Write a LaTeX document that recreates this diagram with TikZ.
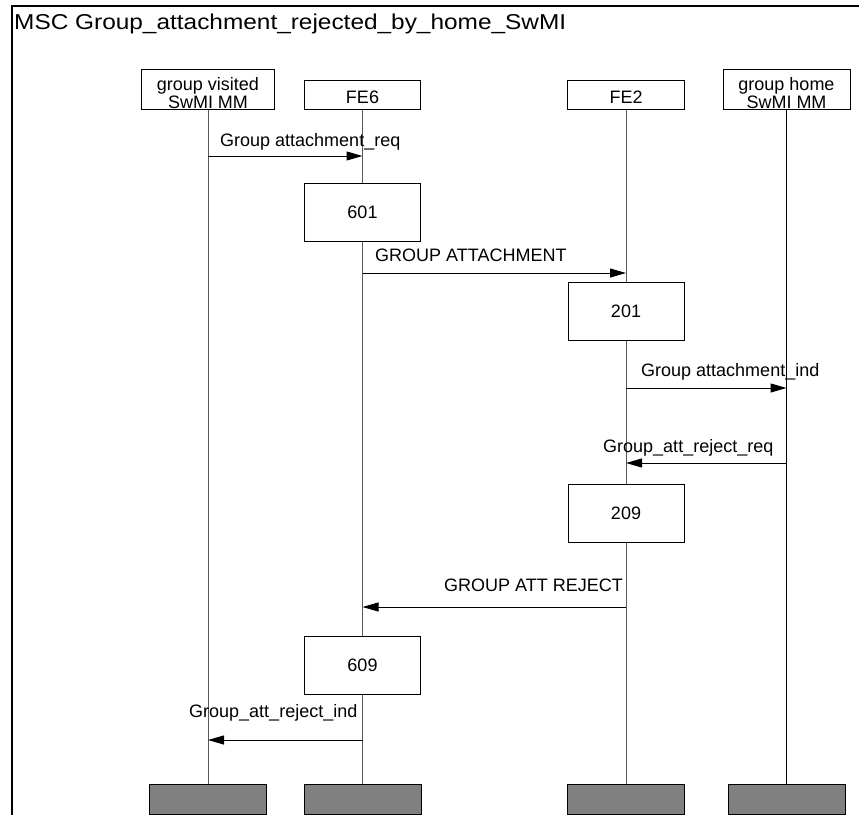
\documentclass[tikz,border=0pt]{standalone}
\usepackage{fontspec}
\setmainfont{Liberation Sans}
\usetikzlibrary{arrows.meta}
\begin{document}
\begin{tikzpicture}[x=1pt,y=-1pt,
  hbox/.style={draw=black, line width=1pt, fill=white, inner sep=0pt, font=\fontsize{18}{18}\selectfont},
  abox/.style={draw=black, line width=1pt, fill=white, inner sep=0pt, minimum width=116pt, minimum height=58pt, font=\fontsize{18}{18}\selectfont},
  endbox/.style={draw=black, line width=1pt, fill=black!50, inner sep=0pt, minimum width=117pt, minimum height=29.5pt, anchor=north},
  life/.style={line width=1pt, draw=black!65},
  msg/.style={line width=1pt, -{Triangle[length=16pt,width=9pt]}},
  lbl/.style={font=\fontsize{18}{18}\selectfont, inner sep=0pt, anchor=base west},
  htxt/.style={font=\fontsize{18}{18}\selectfont, inner sep=0pt, anchor=base},
]
\clip (0,0) rectangle (859,814);
\fill[white] (0,0) rectangle (859,814);
% frame
\draw[line width=2pt] (12,830) -- (12,6) -- (870,6);
\node[anchor=base west, inner sep=0pt] (title) at (14,29.3)
  {\scalebox{1.135}[1]{\fontsize{21.5}{21.5}\selectfont MSC Group\_attachment\_rejected\_by\_home\_SwMI}};

% instance heads
\node[hbox, minimum width=133pt, minimum height=40pt] (hv) at (208,89) {};
\node[htxt] (hvt1) at (208,90.7) {group visited};
\node[htxt] (hvt2) at (208,108) {SwMI MM};
\node[hbox, minimum width=116pt, minimum height=29pt] (h6) at (362.5,94.5) {};
\node[htxt] (h6t) at (362.5,103) {FE6};
\node[hbox, minimum width=117pt, minimum height=29pt] (h2) at (626,94.5) {};
\node[htxt] (h2t) at (626,103) {FE2};
\node[hbox, minimum width=127pt, minimum height=40pt] (hh) at (786.5,89) {};
\node[htxt] (hht1) at (786.5,90.7) {group home};
\node[htxt] (hht2) at (786.5,108) {SwMI MM};

% end boxes
\node[endbox] (ev) at (208,784) {};
\node[endbox] (e6) at (362.5,784) {};
\node[endbox] (e2) at (626,784) {};
\node[endbox] (eh) at (786.5,784) {};

% lifelines
\draw[life] (hv.south) -- (ev.north);
\draw[life] (h6.south) -- (e6.north);
\draw[life] (h2.south) -- (e2.north);
\draw[line width=1pt, black] (hh.south) -- (eh.north);

% action boxes
\node[abox] (a601) at (362.5,212) {601};
\node[abox] (a201) at (626,311.5) {201};
\node[abox] (a209) at (626,513) {209};
\node[abox] (a609) at (362.5,665.5) {609};

% messages
\draw[msg] (hv.south |- 0,156) -- (h6.south |- 0,156);
\node[lbl] (l1) at (220,146.5) {Group attachment\_req};

\draw[msg] (h6.south |- 0,273) -- (h2.south |- 0,273);
\node[lbl] (l2) at (375,261.5) {GROUP ATTACHMENT};

\draw[msg] (h2.south |- 0,388) -- (hh.south |- 0,388);
\node[lbl] (l3) at (641,376) {Group attachment\_ind};

\draw[msg] (hh.south |- 0,463) -- (h2.south |- 0,463);
\node[lbl] (l4) at (603,452) {Group\_att\_reject\_req};

\draw[msg] (h2.south |- 0,607) -- (h6.south |- 0,607);
\node[lbl] (l5) at (444,591) {GROUP ATT REJECT};

\draw[msg] (h6.south |- 0,740) -- (hv.south |- 0,740);
\node[lbl] (l6) at (189,717.5) {Group\_att\_reject\_ind};
\end{tikzpicture}
\end{document}
